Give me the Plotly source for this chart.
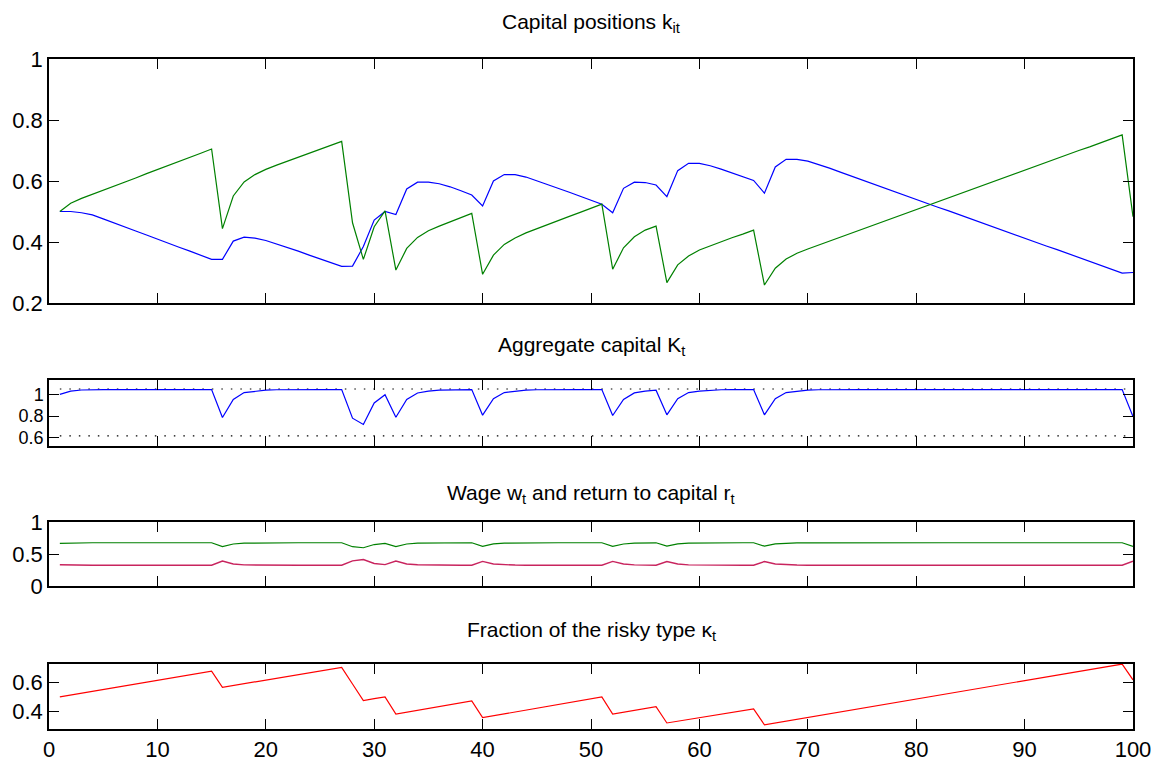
import plotly.graph_objects as go
from plotly.subplots import make_subplots

t = list(range(1, 101))

k_safe = [0.500, 0.500, 0.496, 0.489, 0.476, 0.462, 0.449, 0.436, 0.423, 0.409,
          0.396, 0.383, 0.370, 0.356, 0.343, 0.343, 0.403, 0.416, 0.413, 0.405,
          0.394, 0.382, 0.370, 0.357, 0.345, 0.332, 0.320, 0.321, 0.385, 0.472,
          0.500, 0.490, 0.574, 0.596, 0.596, 0.591, 0.581, 0.568, 0.554, 0.518,
          0.600, 0.621, 0.621, 0.613, 0.601, 0.589, 0.576, 0.563, 0.550, 0.537,
          0.524, 0.496, 0.576, 0.596, 0.595, 0.587, 0.549, 0.634, 0.658, 0.658,
          0.650, 0.639, 0.627, 0.615, 0.602, 0.560, 0.646, 0.671, 0.671, 0.665,
          0.654, 0.642, 0.629, 0.616, 0.603, 0.591, 0.578, 0.565, 0.553, 0.540,
          0.526, 0.514, 0.502, 0.489, 0.476, 0.464, 0.451, 0.438, 0.425, 0.413,
          0.400, 0.387, 0.375, 0.362, 0.349, 0.336, 0.324, 0.311, 0.298, 0.300]

k_risky = [0.500, 0.527, 0.543, 0.556, 0.570, 0.583, 0.597, 0.610, 0.624, 0.637,
           0.651, 0.664, 0.678, 0.691, 0.705, 0.444, 0.551, 0.597, 0.621, 0.638,
           0.652, 0.665, 0.678, 0.691, 0.704, 0.717, 0.730, 0.463, 0.343, 0.450,
           0.502, 0.308, 0.379, 0.415, 0.437, 0.452, 0.466, 0.480, 0.494, 0.294,
           0.357, 0.392, 0.413, 0.430, 0.444, 0.457, 0.470, 0.484, 0.497, 0.511,
           0.524, 0.311, 0.381, 0.417, 0.439, 0.452, 0.267, 0.325, 0.354, 0.374,
           0.388, 0.401, 0.414, 0.426, 0.439, 0.259, 0.314, 0.344, 0.363, 0.377,
           0.390, 0.403, 0.416, 0.429, 0.442, 0.455, 0.467, 0.480, 0.493, 0.506,
           0.519, 0.532, 0.545, 0.558, 0.571, 0.584, 0.596, 0.609, 0.622, 0.635,
           0.648, 0.661, 0.674, 0.687, 0.700, 0.712, 0.725, 0.738, 0.751, 0.483]

K_agg = [1.000, 1.030, 1.040, 1.044, 1.044, 1.044, 1.044, 1.044, 1.044, 1.044,
         1.044, 1.044, 1.044, 1.044, 1.044, 0.786, 0.953, 1.016, 1.030, 1.038,
         1.042, 1.044, 1.044, 1.044, 1.044, 1.044, 1.044, 0.780, 0.723, 0.920,
         0.997, 0.789, 0.953, 1.012, 1.030, 1.038, 1.042, 1.044, 1.044, 0.808,
         0.960, 1.016, 1.030, 1.038, 1.042, 1.044, 1.044, 1.044, 1.044, 1.044,
         1.044, 0.805, 0.953, 1.013, 1.030, 1.038, 0.811, 0.960, 1.016, 1.030,
         1.038, 1.042, 1.044, 1.044, 1.044, 0.811, 0.960, 1.016, 1.030, 1.038,
         1.042, 1.044, 1.044, 1.044, 1.044, 1.044, 1.044, 1.044, 1.044, 1.044,
         1.044, 1.044, 1.044, 1.044, 1.044, 1.044, 1.044, 1.044, 1.044, 1.044,
         1.044, 1.044, 1.044, 1.044, 1.044, 1.044, 1.044, 1.044, 1.044, 0.795]

K_bounds = [1.049, 0.618]

wage = [0.667, 0.673, 0.675, 0.676, 0.676, 0.676, 0.676, 0.676, 0.676, 0.676,
        0.676, 0.676, 0.676, 0.676, 0.676, 0.615, 0.656, 0.670, 0.673, 0.675,
        0.676, 0.676, 0.676, 0.676, 0.676, 0.676, 0.676, 0.614, 0.598, 0.648,
        0.666, 0.616, 0.656, 0.670, 0.673, 0.675, 0.676, 0.676, 0.676, 0.621,
        0.658, 0.670, 0.673, 0.675, 0.676, 0.676, 0.676, 0.676, 0.676, 0.676,
        0.676, 0.620, 0.656, 0.670, 0.673, 0.675, 0.622, 0.658, 0.670, 0.673,
        0.675, 0.676, 0.676, 0.676, 0.676, 0.622, 0.658, 0.670, 0.673, 0.675,
        0.676, 0.676, 0.676, 0.676, 0.676, 0.676, 0.676, 0.676, 0.676, 0.676,
        0.676, 0.676, 0.676, 0.676, 0.676, 0.676, 0.676, 0.676, 0.676, 0.676,
        0.676, 0.676, 0.676, 0.676, 0.676, 0.676, 0.676, 0.676, 0.676, 0.618]

ret = [0.333, 0.327, 0.325, 0.324, 0.324, 0.324, 0.324, 0.324, 0.324, 0.324,
       0.324, 0.324, 0.324, 0.324, 0.324, 0.391, 0.344, 0.330, 0.327, 0.325,
       0.324, 0.324, 0.324, 0.324, 0.324, 0.324, 0.324, 0.393, 0.414, 0.352,
       0.334, 0.390, 0.344, 0.331, 0.327, 0.325, 0.324, 0.324, 0.324, 0.384,
       0.343, 0.330, 0.327, 0.325, 0.324, 0.324, 0.324, 0.324, 0.324, 0.324,
       0.324, 0.385, 0.344, 0.330, 0.327, 0.325, 0.383, 0.343, 0.330, 0.327,
       0.325, 0.324, 0.324, 0.324, 0.324, 0.383, 0.343, 0.330, 0.327, 0.325,
       0.324, 0.324, 0.324, 0.324, 0.324, 0.324, 0.324, 0.324, 0.324, 0.324,
       0.324, 0.324, 0.324, 0.324, 0.324, 0.324, 0.324, 0.324, 0.324, 0.324,
       0.324, 0.324, 0.324, 0.324, 0.324, 0.324, 0.324, 0.324, 0.324, 0.388]

kappa = [0.500, 0.5125, 0.525, 0.5375, 0.550, 0.5625, 0.575, 0.5875, 0.600, 0.6125,
         0.625, 0.6375, 0.650, 0.6625, 0.675, 0.566, 0.578, 0.590, 0.603, 0.615,
         0.627, 0.639, 0.651, 0.664, 0.676, 0.688, 0.700, 0.588, 0.475, 0.488,
         0.500, 0.384, 0.397, 0.409, 0.422, 0.435, 0.448, 0.460, 0.473, 0.359,
         0.372, 0.385, 0.397, 0.410, 0.423, 0.436, 0.449, 0.462, 0.474, 0.487,
         0.500, 0.384, 0.397, 0.409, 0.422, 0.434, 0.323, 0.335, 0.347, 0.359,
         0.371, 0.382, 0.394, 0.406, 0.418, 0.311, 0.3235, 0.336, 0.3485, 0.361,
         0.3735, 0.386, 0.3985, 0.411, 0.4235, 0.436, 0.4485, 0.461, 0.4735, 0.486,
         0.4985, 0.511, 0.5235, 0.536, 0.5485, 0.561, 0.5735, 0.586, 0.5985, 0.611,
         0.6235, 0.636, 0.6485, 0.661, 0.6735, 0.686, 0.6985, 0.711, 0.7235, 0.616]

titles = ["Capital positions k<sub>it</sub>",
          "Aggregate capital K<sub>t</sub>",
          "Wage w<sub>t</sub> and return to capital r<sub>t</sub>",
          "Fraction of the risky type \u03ba<sub>t</sub>"]

x_ticks = [0, 10, 20, 30, 40, 50, 60, 70, 80, 90, 100]
y_ticks = [[0.2, 0.4, 0.6, 0.8, 1], [0.6, 0.8, 1], [0, 0.5, 1], [0.4, 0.6]]
y_ranges = [[0.2, 1.0], [0.524, 1.132], [0.0, 1.0], [0.282, 0.724]]
y_font = [22, 18, 22, 22]

FONT = "Liberation Sans, Arial, Helvetica, sans-serif"
W, H = 1159, 771
mt, mb = 59, 42
ph = H - mt - mb
# panel pixel bounds (top, bottom)
panels_px = [(59, 303), (380, 446), (522, 586), (664, 729)]
title_px = [23, 346, 494, 631]


def frac(y):
    return (H - mb - y) / ph


fig = make_subplots(rows=4, cols=1)

fig.add_trace(go.Scatter(x=t, y=k_safe, mode="lines",
                         line=dict(color="#0000ff", width=1.2)), row=1, col=1)
fig.add_trace(go.Scatter(x=t, y=k_risky, mode="lines",
                         line=dict(color="#008000", width=1.2)), row=1, col=1)

for b in K_bounds:
    fig.add_trace(go.Scatter(x=[t[0], t[-1]], y=[b, b], mode="lines",
                             line=dict(color="black", width=1.2, dash="1.5px,8px")),
                  row=2, col=1)
fig.add_trace(go.Scatter(x=t, y=K_agg, mode="lines",
                         line=dict(color="#0000ff", width=1.2)), row=2, col=1)

fig.add_trace(go.Scatter(x=t, y=wage, mode="lines",
                         line=dict(color="#008000", width=1.2)), row=3, col=1)
fig.add_trace(go.Scatter(x=t, y=ret, mode="lines",
                         line=dict(color="#c8245e", width=1.4)), row=3, col=1)

fig.add_trace(go.Scatter(x=t, y=kappa, mode="lines",
                         line=dict(color="#ff0000", width=1.2)), row=4, col=1)

for i in range(4):
    top, bot = panels_px[i]
    n = "" if i == 0 else str(i + 1)
    fig.layout["xaxis" + n].update(
        domain=[0, 1], range=[0, 100], tickvals=x_ticks,
        showticklabels=(i == 3), ticks="inside", ticklen=10, tickwidth=1,
        tickcolor="black", showline=True, linecolor="black", linewidth=1.5,
        mirror="ticks", showgrid=False, zeroline=False, automargin=False,
        tickfont=dict(family=FONT, size=22, color="black"))
    fig.layout["yaxis" + n].update(
        domain=[frac(bot), frac(top)], range=y_ranges[i], tickvals=y_ticks[i],
        ticks="inside", ticklen=10, tickwidth=1, tickcolor="black",
        showline=True, linecolor="black", linewidth=1.5, mirror="ticks",
        showgrid=False, zeroline=False, automargin=False,
        tickfont=dict(family=FONT, size=y_font[i], color="black"))
    fig.add_annotation(text=titles[i], xref="paper", yref="paper",
                       x=0.5, y=frac(title_px[i]), xanchor="center",
                       yanchor="middle", showarrow=False,
                       font=dict(family=FONT, size=21, color="black"))

fig.update_layout(width=W, height=H, showlegend=False,
                  paper_bgcolor="white", plot_bgcolor="white",
                  margin=dict(l=49, r=26, t=mt, b=mb))

fig.write_html("out.html",
               config={"displayModeBar": False},
               post_script="document.body.style.margin='0';"
                           "document.body.style.overflow='hidden';")
